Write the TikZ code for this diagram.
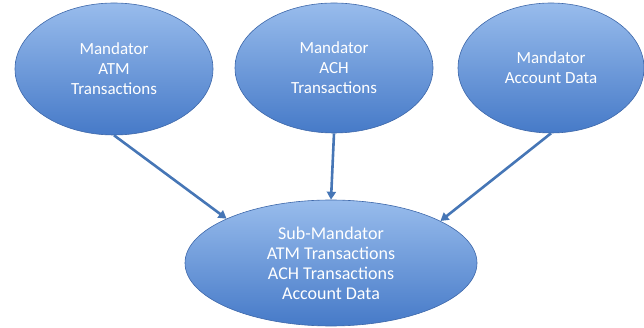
\documentclass[tikz,border=0pt]{standalone}
\usepackage{fontspec}
\setmainfont{Carlito}
\usetikzlibrary{shapes.geometric,arrows.meta}
\definecolor{bubbletop}{RGB}{152,188,236}
\definecolor{bubblebottom}{RGB}{70,122,200}
\definecolor{bubbleedge}{RGB}{62,104,170}
\definecolor{linkblue}{RGB}{70,118,182}
\tikzset{
  bubble/.style={ellipse, inner sep=0pt, draw=bubbleedge, line width=0.6pt,
    top color=bubbletop, bottom color=bubblebottom, text=white, align=center,
    font=\fontsize{17}{20}\selectfont},
  link/.style={draw=linkblue, line width=2.6pt,
    -{Triangle[length=8pt,width=9pt]}}
}
\begin{document}
\begin{tikzpicture}[x=1pt,y=-1pt]
  \useasboundingbox (0,0) rectangle (644,328);
  % source data sets
  \node[bubble, minimum width=198pt, minimum height=132pt] (atm) at (114,69)
    {Mandator\\ATM\\Transactions};
  \node[bubble, minimum width=198pt, minimum height=130pt] (ach) at (334,68)
    {Mandator\\ACH\\Transactions};
  \node[bubble, minimum width=186pt, minimum height=130pt] (acct) at (551,68)
    {Mandator\\Account Data};
  % combined data set
  \node[bubble, minimum width=292pt, minimum height=126pt,
        font=\fontsize{18}{20}\selectfont] (sub) at (331,263)
    {Sub-Mandator\\ATM Transactions\\ACH Transactions\\Account Data};
  % flows into the sub-mandator
  \draw[link] (atm.south) -- (sub.157);
  \draw[link] (ach.south) -- (sub.north);
  \draw[link] (acct.south) -- (sub.21);
\end{tikzpicture}
\end{document}
